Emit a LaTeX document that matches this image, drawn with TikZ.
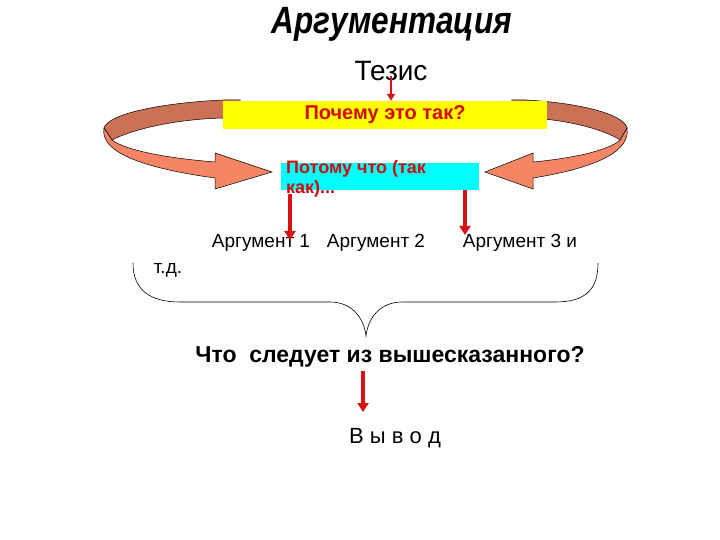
\documentclass[tikz,border=0pt]{standalone}
\usepackage{fontspec}
\setmainfont{Liberation Sans}
\newfontfamily\titlefont[FakeStretch=0.83]{Liberation Sans}
\usetikzlibrary{arrows.meta}
\definecolor{bandback}{RGB}{204,112,86}
\definecolor{bandfront}{RGB}{244,134,102}
\definecolor{arrowred}{RGB}{214,18,18}
\definecolor{textred}{RGB}{210,10,10}
\definecolor{boxcyan}{RGB}{0,255,255}
\definecolor{boxyellow}{RGB}{255,255,0}
\tikzset{
  redarrow/.style={arrowred,line width=4pt,-{Triangle[width=11pt,length=9pt]}},
  thinarrow/.style={arrowred,line width=2.5pt,-{Triangle[width=8pt,length=7pt]}},
  band/.style={draw=black,line width=0.5pt},
  argtext/.style={font=\fontsize{19}{22}\selectfont,inner sep=1pt},
}
\begin{document}
\begin{tikzpicture}[x=1pt,y=-1pt]
  \useasboundingbox (0,0) rectangle (720,540);
  % left ribbon arrow
  \fill[bandback,band] (240,100) -- (223,100) .. controls (160,103) and (108,114) .. (104,128)
      -- (112,140) .. controls (135,128) and (180,119) .. (223,118) -- (240,118) -- cycle;
  \fill[bandfront,band] (104,128) .. controls (100,150) and (135,167) .. (215,178)
      -- (215,189) -- (272,172) -- (215,153) -- (215,162)
      .. controls (165,158) and (125,150) .. (112,140) -- cycle;
  % right ribbon arrow (mirrored)
  \begin{scope}[xshift=715pt,xscale=-0.846]
    \fill[bandback,band] (240,100) -- (223,100) .. controls (160,103) and (108,114) .. (104,128)
        -- (112,140) .. controls (135,128) and (180,119) .. (223,118) -- (240,118) -- cycle;
    \fill[bandfront,band] (104,128) .. controls (100,150) and (135,167) .. (215,178)
        -- (215,189) -- (272,172) -- (215,153) -- (215,162)
        .. controls (165,158) and (125,150) .. (112,140) -- cycle;
  \end{scope}
  % title and thesis
  \node (title) at (392,24) {\titlefont\fontsize{38}{40}\selectfont\bfseries\itshape Аргументация};
  \node[font=\fontsize{28}{32}\selectfont] (tezis) at (391,71) {Тезис};
  % boxes
  \node[fill=boxyellow,minimum width=324,minimum height=28,inner sep=0pt,
        text=textred,font=\fontsize{20}{23}\selectfont\bfseries] (why) at (385,115) {Почему это так?};
  \node[fill=boxcyan,minimum width=198,minimum height=27,inner sep=0pt] (because) at (380,176.5) {};
  \node[anchor=north west,align=left,inner sep=0pt,text=textred,
        font=\fontsize{18}{20}\selectfont\bfseries] (becausetext) at (286,160) {Потому что (так\\как)...};
  \draw[thinarrow] ([yshift=4pt]tezis.base) -- (tezis.base |- why.north);
  % arguments
  \node[argtext] (arg1) at (261,243) {Аргумент 1};
  \node[argtext] (arg2) at (376,243) {Аргумент 2};
  \node[argtext] (arg3) at (520,243) {Аргумент 3 и};
  \node[argtext] (etc) at (168,270) {т.д.};
  \coordinate (a1) at (290,240);
  \coordinate (a3) at (465,235);
  \draw[redarrow] ([yshift=-4pt]because.south -| a1) -- (a1);
  \draw[redarrow] (because.south -| a3) -- (a3);
  % brace
  \coordinate (tip) at (366,336);
  \draw[line width=0.6pt] (133,263) .. controls (133,290) and (150,302) .. (180,302) -- (330,302)
      .. controls (352,302) and (364,318) .. (tip) .. controls (368,318) and (380,302) .. (402,302)
      -- (555,302) .. controls (585,302) and (598,290) .. (598,263);
  % conclusion
  \node[font=\fontsize{23}{26}\selectfont\bfseries] (what) at (390,357) {Что\ \ следует из вышесказанного?};
  \node[font=\fontsize{22}{25}\selectfont] (vyvod) at (395,438) {В ы в о д};
  \coordinate (v) at (363,412);
  \draw[redarrow] (what.south -| v) -- (v);
\end{tikzpicture}
\end{document}
